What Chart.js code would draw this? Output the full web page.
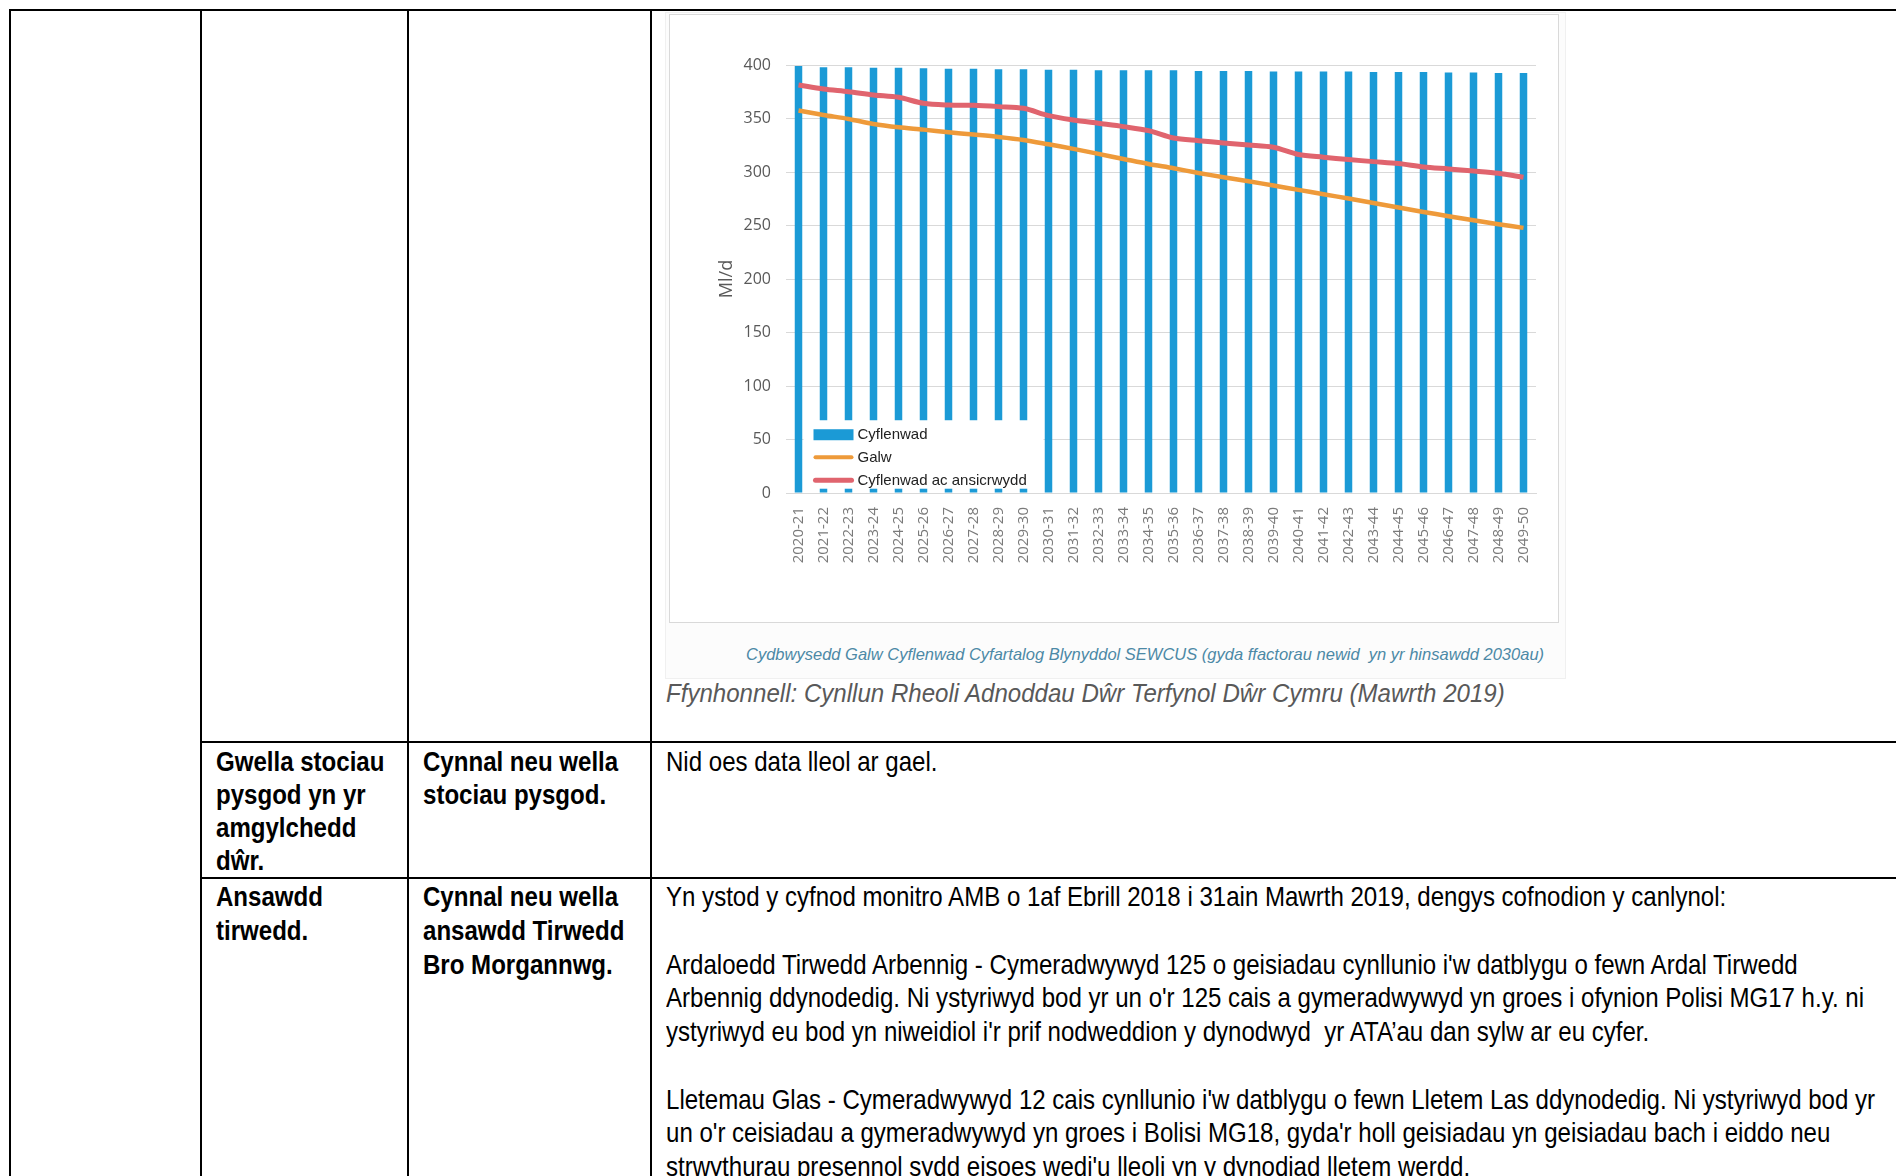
<!DOCTYPE html>
<html lang="cy">
<head>
<meta charset="utf-8">
<title>Cydbwysedd Galw Cyflenwad</title>
<script src="https://cdn.jsdelivr.net/npm/chart.js@4.4.1/dist/chart.umd.min.js"></script>
<style>
  html, body { margin: 0; padding: 0; background: #fff; }
  body { width: 1896px; height: 1176px; position: relative; overflow: hidden;
         font-family: "Liberation Sans", Arial, sans-serif; color: #000; }
  .hl, .vl { position: absolute; background: #000; }
  /* Arial Narrow is not installed: squeeze Liberation Sans instead */
  .cell { position: absolute; font-size: 28px; white-space: nowrap; transform: scaleX(0.859); transform-origin: 0 0; }
  .bold { font-weight: bold; }
  #shot { position: absolute; left: 665px; top: 12px; width: 899px; height: 665px; background: #fcfcfc; border: 1px solid #f0f0f0; }
  #frame { position: absolute; left: 669px; top: 14px; width: 888px; height: 607px; border: 1px solid #d9d9d9; background: #fff; }
  #caption { position: absolute; left: 746px; top: 645px; font-style: italic; font-size: 17px; color: #4c89a6;
             white-space: nowrap; transform-origin: 0 0; }
  #source { position: absolute; left: 666px; top: 679px; font-style: italic; font-size: 25px; color: #595959;
            white-space: nowrap; transform-origin: 0 0; }
</style>
</head>
<body>
<!-- grid lines of the table -->
<div class="hl" style="left:9px; top:9px; width:1887px; height:2px"></div>
<div class="vl" style="left:9px; top:9px; width:2px; height:1167px"></div>
<div class="vl" style="left:200px; top:9px; width:2px; height:1167px"></div>
<div class="vl" style="left:407px; top:9px; width:2px; height:1167px"></div>
<div class="vl" style="left:650px; top:9px; width:2px; height:1167px"></div>
<div class="hl" style="left:200px; top:741px; width:1696px; height:2px"></div>
<div class="hl" style="left:200px; top:877px; width:1696px; height:2px"></div>

<!-- chart as pasted image -->
<div id="shot"></div>
<div id="frame"><canvas id="cyflenwadChart"></canvas></div>
<div id="caption" data-w="798">Cydbwysedd Galw Cyflenwad Cyfartalog Blynyddol SEWCUS (gyda ffactorau newid&nbsp; yn yr hinsawdd 2030au)</div>
<div id="source" data-w="839">Ffynhonnell: Cynllun Rheoli Adnoddau Dŵr Terfynol Dŵr Cymru (Mawrth 2019)</div>

<!-- row: pysgod -->
<div class="cell bold" style="left:216px; top:745px; line-height:33px">Gwella stociau<br>pysgod yn yr<br>amgylchedd<br>dŵr.</div>
<div class="cell bold" style="left:423px; top:745px; line-height:33px">Cynnal neu wella<br>stociau pysgod.</div>
<div class="cell" style="left:666px; top:745px; line-height:33px">Nid oes data lleol ar gael.</div>

<!-- row: tirwedd -->
<div class="cell bold" style="left:216px; top:880px; line-height:33.75px">Ansawdd<br>tirwedd.</div>
<div class="cell bold" style="left:423px; top:880px; line-height:33.75px">Cynnal neu wella<br>ansawdd Tirwedd<br>Bro Morgannwg.</div>
<div class="cell" style="left:666px; top:880px; line-height:33.75px">Yn ystod y cyfnod monitro AMB o 1af Ebrill 2018 i 31ain Mawrth 2019, dengys cofnodion y canlynol:<br><br>Ardaloedd Tirwedd Arbennig - Cymeradwywyd 125 o geisiadau cynllunio i'w datblygu o fewn Ardal Tirwedd<br>Arbennig ddynodedig. Ni ystyriwyd bod yr un o'r 125 cais a gymeradwywyd yn groes i ofynion Polisi MG17 h.y. ni<br>ystyriwyd eu bod yn niweidiol i'r prif nodweddion y dynodwyd&nbsp; yr ATA’au dan sylw ar eu cyfer.<br><br>Lletemau Glas - Cymeradwywyd 12 cais cynllunio i'w datblygu o fewn Lletem Las ddynodedig. Ni ystyriwyd bod yr<br>un o'r ceisiadau a gymeradwywyd yn groes i Bolisi MG18, gyda'r holl geisiadau yn geisiadau bach i eiddo neu<br>strwythurau presennol sydd eisoes wedi'u lleoli yn y dynodiad lletem werdd.</div>

<script>
// Blynyddoedd (echel x)
const seasons = [
    '2020-21', '2021-22', '2022-23', '2023-24', '2024-25', '2025-26', '2026-27', '2027-28', '2028-29', '2029-30',
    '2030-31', '2031-32', '2032-33', '2033-34', '2034-35', '2035-36', '2036-37', '2037-38', '2038-39', '2039-40',
    '2040-41', '2041-42', '2042-43', '2043-44', '2044-45', '2045-46', '2046-47', '2047-48', '2048-49', '2049-50'
];

// Ml/d, wedi'u darllen o'r graff
const cyflenwad = [
    399, 398, 398, 397.5, 397.5, 397, 396.5, 396.5, 396, 396,
    395.5, 395.5, 395, 395, 395, 395, 394.5, 394.5, 394.5, 394,
    394, 394, 394, 393.5, 393.5, 393.5, 393, 393, 392.5, 392.5
];
const galw = [
    357.4, 353.3, 349.6, 344.9, 341.8, 339.6, 337.1, 335, 332.8, 330,
    325.9, 321.6, 316.9, 312.2, 307.5, 303.5, 299.1, 295.1, 291.4, 287.3,
    283.3, 279.2, 275.2, 271.1, 266.8, 262.7, 258.7, 254.9, 251.2, 247.8
];
const cyflenwadAnsicrwydd = [
    381.3, 377.6, 375.1, 372, 369.8, 364.2, 362.6, 362.3, 361.1, 359.5,
    352.7, 348.6, 345.5, 342.4, 338.7, 331.8, 329.3, 327.2, 325.3, 323.1,
    316.3, 313.8, 311.6, 309.7, 307.9, 304.7, 302.9, 301, 298.8, 295.1
];

const blue = '#1b9ad6';
const orange = '#ee9a3a';
const red = '#e0646e';

// Allwedd wedi'i gosod dros y barrau, fel yn y ddelwedd wreiddiol.
const legendBox = {
    id: 'legendBox',
    afterDatasetsDraw(chart) {
        const { ctx, scales: { x, y } } = chart;
        const step = x.getPixelForTick(1) - x.getPixelForTick(0);
        const left = x.getPixelForTick(0) + step * 0.2;
        const right = x.getPixelForTick(10) - step * 0.2;
        const top = y.getPixelForValue(68);
        const bottom = y.getPixelForValue(4);

        ctx.save();
        ctx.fillStyle = '#ffffff';
        ctx.fillRect(left, top, right - left, bottom - top);

        const sx = left + 10;
        const rows = [
            { label: 'Cyflenwad', type: 'box', color: blue, dy: 14 },
            { label: 'Galw', type: 'line', color: orange, width: 4, dy: 37 },
            { label: 'Cyflenwad ac ansicrwydd', type: 'line', color: red, width: 5, dy: 60 }
        ];
        ctx.font = '15px "Liberation Sans", Arial, sans-serif';
        ctx.textBaseline = 'middle';
        rows.forEach(r => {
            const ry = top + r.dy;
            if (r.type === 'box') {
                ctx.fillStyle = r.color;
                ctx.fillRect(sx, ry - 5, 40, 11);
            } else {
                ctx.strokeStyle = r.color;
                ctx.lineWidth = r.width;
                ctx.lineCap = 'round';
                ctx.beginPath();
                ctx.moveTo(sx + 2, ry);
                ctx.lineTo(sx + 38, ry);
                ctx.stroke();
            }
            ctx.fillStyle = '#222222';
            ctx.fillText(r.label, sx + 44, ry + 1);
        });
        ctx.restore();
    }
};

document.addEventListener('DOMContentLoaded', () => {
    // Gwasgu'r capsiynau i'r un lled ag yn y ddelwedd.
    document.querySelectorAll('[data-w]').forEach(el => {
        const k = Number(el.dataset.w) / el.offsetWidth;
        el.style.transform = `scaleX(${k})`;
    });

    const canvas = document.getElementById('cyflenwadChart');

    new Chart(canvas.getContext('2d'), {
        type: 'bar',
        data: {
            labels: seasons,
            datasets: [
                {
                    label: 'Cyflenwad ac ansicrwydd',
                    type: 'line',
                    data: cyflenwadAnsicrwydd,
                    borderColor: red,
                    borderWidth: 5,
                    pointRadius: 0,
                    tension: 0.3,
                    order: 1
                },
                {
                    label: 'Galw',
                    type: 'line',
                    data: galw,
                    borderColor: orange,
                    borderWidth: 4.5,
                    pointRadius: 0,
                    tension: 0.3,
                    order: 2
                },
                {
                    label: 'Cyflenwad',
                    data: cyflenwad,
                    backgroundColor: blue,
                    barPercentage: 0.3,
                    categoryPercentage: 1,
                    order: 3
                }
            ]
        },
        options: {
            responsive: true,
            maintainAspectRatio: false,
            animation: false,
            layout: { padding: { left: 40, right: 22, top: 50, bottom: 59 } },
            scales: {
                x: {
                    grid: { display: false, drawTicks: false },
                    border: { color: '#d9d9d9' },
                    ticks: {
                        autoSkip: false,
                        minRotation: 90,
                        maxRotation: 90,
                        padding: 14,
                        color: '#7a7a7a',
                        font: { family: '"Open Sans", sans-serif', size: 15 }
                    },
                    afterFit: (s) => { s.height = 70; }
                },
                y: {
                    min: 0,
                    max: 400,
                    ticks: {
                        stepSize: 50,
                        padding: 15,
                        color: '#595959',
                        font: { family: '"Open Sans", sans-serif', size: 16 }
                    },
                    grid: { color: '#d9d9d9', drawTicks: false },
                    border: { display: false },
                    title: {
                        display: true,
                        text: 'Ml/d',
                        color: '#595959',
                        padding: { top: 6, bottom: 4 },
                        font: { family: '"Open Sans", sans-serif', size: 18 }
                    },
                    afterFit: (s) => { s.width = 76; }
                }
            },
            plugins: {
                legend: { display: false },
                tooltip: { enabled: false }
            }
        },
        plugins: [legendBox]
    });
});
</script>
</body>
</html>
